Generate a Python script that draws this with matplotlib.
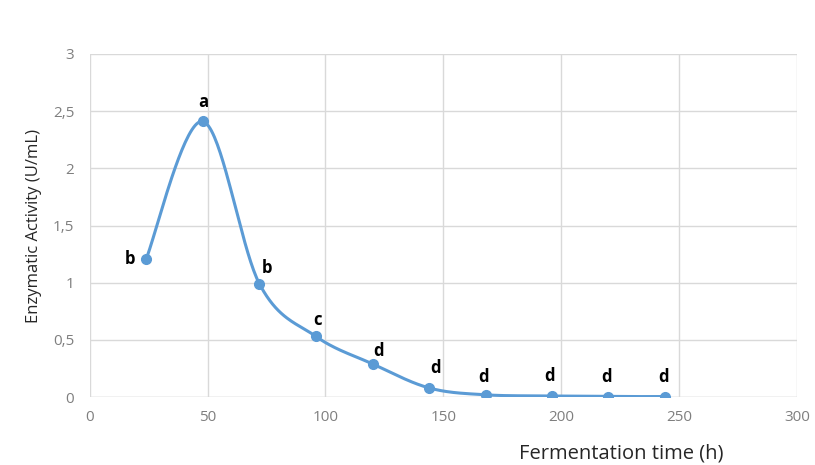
import numpy as np
import matplotlib.pyplot as plt
from matplotlib.ticker import FuncFormatter

plt.rcParams['font.family'] = ['Open Sans', 'DejaVu Sans']

# data
hours = [24, 48, 72, 96, 120, 144, 168, 196, 220, 244]
activity = [1.21, 2.41, 0.99, 0.53, 0.29, 0.08, 0.02, 0.01, 0.005, 0.005]
letters = ['b', 'a', 'b', 'c', 'd', 'd', 'd', 'd', 'd', 'd']

x_ticks = [0, 50, 100, 150, 200, 250, 300]
y_ticks = [0, 0.5, 1, 1.5, 2, 2.5, 3]


def smooth(xs, ys, steps=40):
    '''Bezier smoothing like the "smoothed line" of a spreadsheet chart'''
    xs = np.asarray(xs, dtype=float)
    ys = np.asarray(ys, dtype=float)
    n = len(xs)
    out_x, out_y = [], []
    t = np.linspace(0, 1, steps)
    for i in range(n - 1):
        p0 = np.array([xs[max(i - 1, 0)], ys[max(i - 1, 0)]])
        p1 = np.array([xs[i], ys[i]])
        p2 = np.array([xs[i + 1], ys[i + 1]])
        p3 = np.array([xs[min(i + 2, n - 1)], ys[min(i + 2, n - 1)]])
        c1 = p1 + (p2 - p0) / 6
        c2 = p2 - (p3 - p1) / 6
        pts = ((1 - t) ** 3)[:, None] * p1 + (3 * (1 - t) ** 2 * t)[:, None] * c1 \
            + (3 * (1 - t) * t ** 2)[:, None] * c2 + (t ** 3)[:, None] * p2
        out_x.extend(pts[:, 0])
        out_y.extend(pts[:, 1])
    return np.array(out_x), np.array(out_y)


fig = plt.figure(figsize=(8.15, 4.65), dpi=100)
ax = fig.add_axes([0.110, 0.146, 0.868, 0.738])

color = '#5B9BD5'
sx, sy = smooth(hours, activity)
ax.plot(sx, sy, color=color, lw=2.2, zorder=3)
ax.plot(hours, activity, 'o', color=color, ms=7, zorder=4)

# letter labels, offsets in pixels from the point
offsets = [(-16, 0), (0, 19), (8, 16), (1, 16), (6, 13),
           (6, 20), (-2, 18), (-2, 20), (-2, 20), (-2, 20)]
for (h, v, s), (dx, dy) in zip(zip(hours, activity, letters), offsets):
    ax.annotate(s, (h, v), xytext=(dx, dy), textcoords='offset pixels',
                ha='center', va='center', fontsize=12, fontweight='bold', color='black')

ax.set_xlim(0, 300)
ax.set_ylim(0, 3)
ax.set_xticks(x_ticks)
ax.set_yticks(y_ticks)
ax.yaxis.set_major_formatter(FuncFormatter(lambda v, p: ('%g' % v).replace('.', ',')))
ax.tick_params(length=0, labelsize=11, labelcolor='#7F7F7F')
ax.tick_params(axis='x', pad=9)
ax.tick_params(axis='y', pad=11)
ax.grid(True, color='#D9D9D9', lw=1)
ax.set_axisbelow(True)
for sp in ax.spines.values():
    sp.set_visible(False)
ax.axhline(0, color='#D9D9D9', lw=1, zorder=1)

ax.set_ylabel('Enzymatic Activity (U/mL)', fontsize=12, color='#262626', labelpad=8)
fig.text(0.762, 0.004, 'Fermentation time (h)', fontsize=14.5, color='#262626',
         ha='center', va='bottom')

fig.savefig('out.png', dpi=100)
